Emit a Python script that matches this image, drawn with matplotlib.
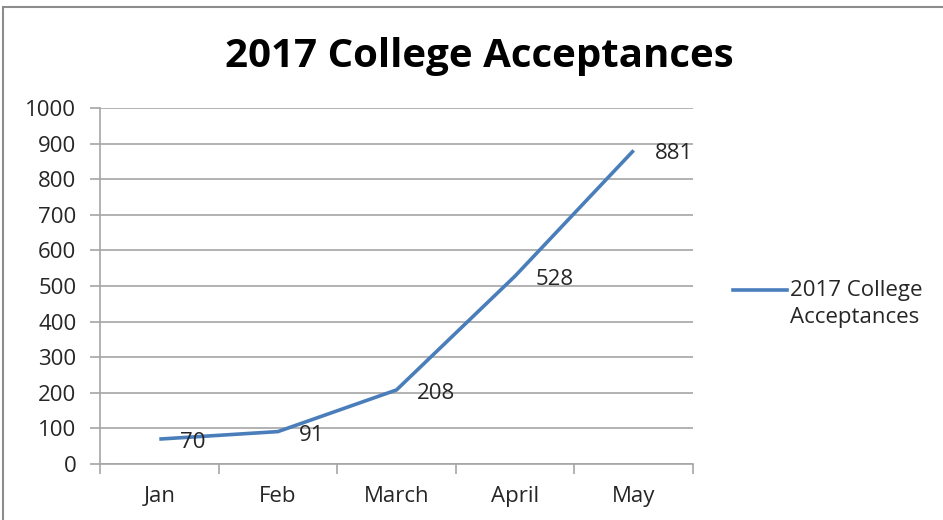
import matplotlib.pyplot as plt
import matplotlib.patches as mpatches
from matplotlib.lines import Line2D

plt.rcParams['font.family'] = ['Open Sans', 'DejaVu Sans']

months = ['Jan', 'Feb', 'March', 'April', 'May']
acceptances = [70, 91, 208, 528, 881]
series_name = '2017 College Acceptances'
legend_label = '2017 College\nAcceptances'

blue = '#4A7EBB'
grey = '#A6A6A6'
txt = '#262626'

fig = plt.figure(figsize=(9.43, 5.2), dpi=100)
ax = fig.add_axes([100 / 943, 56 / 520, 593 / 943, 356 / 520])

x = [i + 0.5 for i in range(len(months))]
ax.plot(x, acceptances, color=blue, linewidth=2.6, solid_capstyle='butt')
for xi, v in zip(x, acceptances):
    ax.annotate(str(v), (xi, v), xytext=(15, -2.5), textcoords='offset points',
                ha='left', va='center', fontsize=16, color=txt)

ax.set_xlim(0, len(months))
ax.set_ylim(0, 1000)
ax.set_yticks(range(0, 1001, 100))
ax.set_xticks(range(len(months) + 1))
ax.set_xticklabels([])
ax.set_xticks(x, minor=True)
ax.set_xticklabels(months, minor=True, fontsize=16, color=txt)
ax.tick_params(axis='x', which='minor', length=0, pad=16)
ax.tick_params(axis='x', which='major', length=7, color=grey, width=1.2)
ax.tick_params(axis='y', length=7, color=grey, width=1.2, labelsize=16,
               labelcolor=txt, pad=10)

ax.grid(axis='y', color=grey, linewidth=1.2)
ax.set_axisbelow(True)
for s in ['top', 'right']:
    ax.spines[s].set_visible(False)
for s in ['left', 'bottom']:
    ax.spines[s].set_color(grey)
    ax.spines[s].set_linewidth(1.2)

fig.suptitle(series_name, x=479 / 943, y=1 - 57 / 520, va='center',
             fontsize=29, fontweight='bold', color='black')

# legend, line aligned with first text line like Excel
fig.add_artist(Line2D([733 / 943, 787 / 943], [1 - 290 / 520] * 2,
                      color=blue, linewidth=2.6, transform=fig.transFigure))
fig.text(790 / 943, 1 - 304 / 520, legend_label, ha='left', va='center',
         fontsize=16, color=txt, linespacing=1.42)

fig.patches.append(mpatches.Rectangle((3 / 943, -0.1), 1.2, 1 - 7 / 520 + 0.1,
                                      transform=fig.transFigure, fill=False,
                                      edgecolor='#8C8C8C', linewidth=1.5))

fig.savefig('out.png', dpi=100)
